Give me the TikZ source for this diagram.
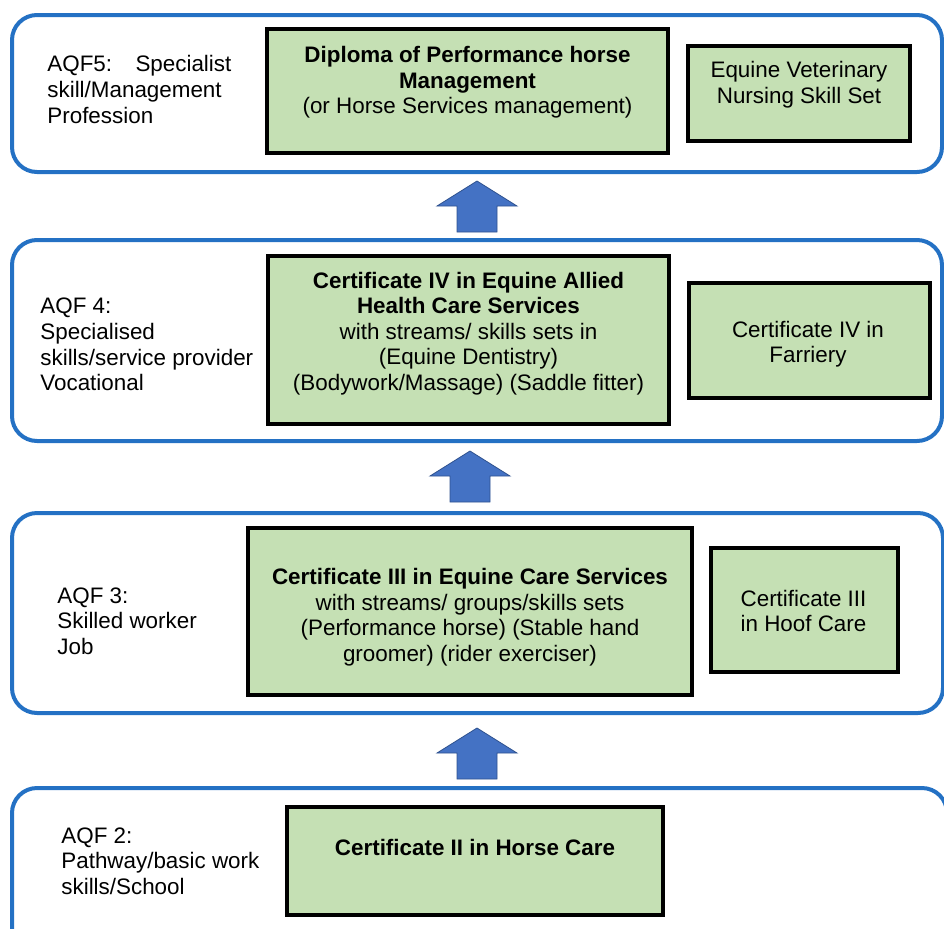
\documentclass[tikz,border=0pt]{standalone}
\usepackage{fontspec}
\setmainfont{Liberation Sans}
\usepackage{tikz}
\definecolor{lvlblue}{RGB}{36,113,196}
\definecolor{boxgreen}{RGB}{197,224,180}
\definecolor{arrowfill}{RGB}{68,114,196}
\definecolor{arrowline}{RGB}{47,82,143}

\begin{document}
\begin{tikzpicture}[
  x=0.5pt, y=-0.5pt,
  level/.style={draw=lvlblue, line width=2pt, rounded corners=12.5pt, inner sep=0pt},
  qual/.style={draw=black, fill=boxgreen, line width=2.4pt, inner sep=0pt},
  txt/.style={inner sep=0pt, align=center, font=\fontsize{11.2}{12.8}\selectfont},
  lbl/.style={txt, anchor=west, align=left},
  uparrow/.style={fill=arrowfill, draw=arrowline, line width=0.4pt},
  ]
  \useasboundingbox (0,0) rectangle (944,928);
  % levels
  \node[level, minimum width=465pt, minimum height=78.5pt] (lvl5) at (477,93.5) {};
  \node[level, minimum width=465pt, minimum height=100.5pt] (lvl4) at (477,340.5) {};
  \node[level, minimum width=465.5pt, minimum height=100pt] (lvl3) at (477.5,613) {};
  \node[level, minimum width=467.5pt, minimum height=86pt] (lvl2) at (479.5,874) {};
  % qualifications
  \node[qual, minimum width=200.5pt, minimum height=62pt] (dip) at (467.5,91) {};
  \node[qual, minimum width=111pt, minimum height=47.5pt] (evn) at (799,93.5) {};
  \node[qual, minimum width=200.5pt, minimum height=84pt] (cert4) at (468.5,340) {};
  \node[qual, minimum width=120.5pt, minimum height=57.5pt] (farr) at (809.5,340.5) {};
  \node[qual, minimum width=222pt, minimum height=83.5pt] (cert3) at (470,611.5) {};
  \node[qual, minimum width=93.5pt, minimum height=62pt] (hoof) at (804.5,610) {};
  \node[qual, minimum width=188pt, minimum height=54pt] (cert2) at (475,861) {};
  % texts
  \node[lbl] (lbl5) at (47,89.5) {\makebox[92pt][s]{AQF5:\hfill Specialist}\\skill/Management\\Profession};
  \node[txt] (dip-t) at (467.5,82.5) {\textbf{Diploma of Performance horse}\\\textbf{Management}\\(or Horse Services management)};
  \node[txt] (evn-t) at (799,85) {Equine Veterinary\\Nursing Skill Set};
  \node[lbl] (lbl4) at (40,344.5) {AQF 4:\\Specialised\\skills/service provider\\Vocational};
  \node[txt] (cert4-t) at (468.5,333.5) {\textbf{Certificate IV in Equine Allied}\\\textbf{Health Care Services}\\with streams/ skills sets in\\(Equine Dentistry)\\(Bodywork/Massage) (Saddle fitter)};
  \node[txt] (farr-t) at (808,344) {Certificate IV in\\Farriery};
  \node[lbl] (lbl3) at (57,621) {AQF 3:\\Skilled worker\\Job};
  \node[txt] (cert3-t) at (470,617) {\textbf{Certificate III in Equine Care Services}\\with streams/ groups/skills sets\\(Performance horse) (Stable hand\\groomer) (rider exerciser)};
  \node[txt] (hoof-t) at (803.5,611) {Certificate III\\in Hoof Care};
  \node[lbl] (lbl2) at (61,861) {AQF 2:\\Pathway/basic work\\skills/School};
  \node[txt] (cert2-t) at (475,847.5) {\textbf{Certificate II in Horse Care}};
  % block arrows
  \foreach \x/\y in {477/232, 470/502, 477/779}
    \filldraw[uparrow] (\x-20,\y) -- ++(0,-26) -- ++(-20,0) -- (\x,\y-51)
      -- (\x+40,\y-26) -- ++(-20,0) -- (\x+20,\y) -- cycle;
\end{tikzpicture}
\end{document}
